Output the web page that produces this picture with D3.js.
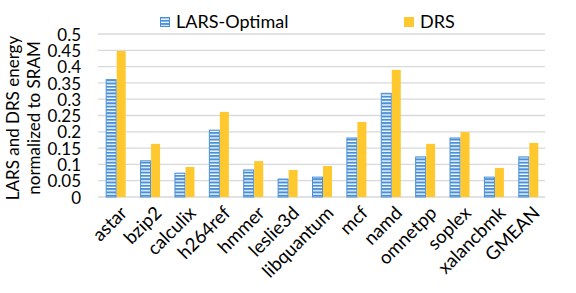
<!DOCTYPE html>
<html><head><meta charset="utf-8">
<script src="https://cdn.jsdelivr.net/npm/d3@7"></script>
<style>body{margin:0;background:#fff}svg{display:block}text{font-family:Lato,sans-serif;fill:#000}</style>
</head><body>
<svg id="c" width="576" height="293"></svg>
<script>
const categories = ["astar","bzip2","calculix","h264ref","hmmer","leslie3d","libquantum","mcf","namd","omnetpp","soplex","xalancbmk","GMEAN"];
const larsOptimal = [0.36,0.111,0.073,0.205,0.083,0.055,0.061,0.181,0.318,0.123,0.181,0.061,0.123];
const drs = [0.448,0.163,0.092,0.261,0.110,0.083,0.095,0.230,0.390,0.163,0.199,0.089,0.166];
const yTicks = [0,0.05,0.1,0.15,0.2,0.25,0.3,0.35,0.4,0.45,0.5];
const seriesNames = ["LARS-Optimal","DRS"];

const svg = d3.select("#c");
const blue = "#4a90d9", yellow = "#ffc82e";
const defs = svg.append("defs");
const pat = defs.append("pattern").attr("id","stripe").attr("patternUnits","userSpaceOnUse")
  .attr("width",4).attr("height",3.3);
pat.append("rect").attr("width",4).attr("height",3.3).attr("fill","#fff");
pat.append("rect").attr("width",4).attr("height",2).attr("fill",blue);

const x = d3.scaleBand().domain(categories).range([98,545]);
const y = d3.scaleLinear().domain([0,0.5]).range([197,34]);

const g = svg.append("g");
g.selectAll("line.grid").data(yTicks).join("line")
  .attr("x1",98).attr("x2",545).attr("y1",d=>y(d)).attr("y2",d=>y(d))
  .attr("stroke","#d9d9d9").attr("stroke-width",1.3);

const yAxis = svg.append("g").attr("transform","translate(81,0)")
  .call(d3.axisLeft(y).tickValues(yTicks).tickFormat(d=>String(+d.toFixed(2))).tickSize(0).tickPadding(0));
yAxis.select(".domain").remove();
yAxis.selectAll("text").style("font-size","17px").attr("font-family","Lato").attr("dy","0.36em").attr("fill","#000");

const cx = d => x(d) + x.bandwidth()/2;
g.selectAll("rect.b").data(categories).join("rect")
  .attr("x",d=>cx(d)-9).attr("width",10)
  .attr("y",(d,i)=>y(larsOptimal[i])).attr("height",(d,i)=>y(0)-y(larsOptimal[i]))
  .attr("fill","url(#stripe)").attr("stroke",blue).attr("stroke-width",1);
g.selectAll("rect.y").data(categories).join("rect")
  .attr("x",d=>cx(d)+1.5).attr("width",9)
  .attr("y",(d,i)=>y(drs[i])).attr("height",(d,i)=>y(0)-y(drs[i]))
  .attr("fill",yellow);

const xAxis = svg.append("g").attr("transform","translate(4,205)")
  .call(d3.axisBottom(x).tickSize(0).tickPadding(0));
xAxis.select(".domain").remove();
xAxis.selectAll("text").style("font-size","18.5px").attr("font-family","Lato").attr("fill","#000")
  .attr("text-anchor","end").attr("dy","0.7em").attr("transform","rotate(-45)");

svg.append("text").attr("transform","translate(19,118) rotate(-90)").attr("text-anchor","middle")
  .style("font-size","17px").text("LARS and DRS energy");
svg.append("text").attr("transform","translate(40,118) rotate(-90)").attr("text-anchor","middle")
  .style("font-size","17px").text("normalized to SRAM");

const leg = svg.append("g");
leg.append("rect").attr("x",160.5).attr("y",17.5).attr("width",9).attr("height",9).attr("fill","url(#stripe)").attr("stroke",blue);
leg.append("text").attr("x",176).attr("y",28).style("font-size","18px").text(seriesNames[0]);
leg.append("rect").attr("x",404).attr("y",17).attr("width",10).attr("height",10).attr("fill",yellow);
leg.append("text").attr("x",420).attr("y",28).style("font-size","18px").text(seriesNames[1]);
</script>
</body></html>
